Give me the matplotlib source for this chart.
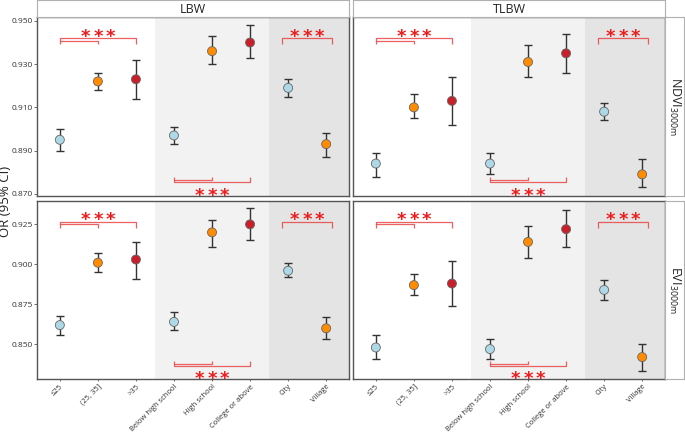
import numpy as np
import matplotlib
matplotlib.use('Agg')
import matplotlib.pyplot as plt
from matplotlib.transforms import offset_copy

plt.rcParams['font.family'] = ['Open Sans', 'DejaVu Sans']
plt.rcParams['mathtext.default'] = 'regular'

categories = ['≤25', '(25, 35]', '>35', 'Below high school', 'High school',
              'College or above', 'City', 'Village']
point_colors = ['#add8e6', '#ff8c00', '#c8202a', '#add8e6', '#ff8c00', '#c8202a',
                '#add8e6', '#ff8c00']
outcomes = ['LBW', 'TLBW']
exposures = ['NDVI', 'EVI']

# odds ratio, lower and upper CI per panel
lbw_ndvi = [0.895, 0.922, 0.923, 0.897, 0.936, 0.940, 0.919, 0.893]
lbw_ndvi_lo = [0.890, 0.918, 0.914, 0.893, 0.930, 0.933, 0.915, 0.887]
lbw_ndvi_hi = [0.900, 0.926, 0.932, 0.901, 0.943, 0.948, 0.923, 0.898]

tlbw_ndvi = [0.884, 0.910, 0.913, 0.884, 0.931, 0.935, 0.908, 0.879]
tlbw_ndvi_lo = [0.878, 0.905, 0.902, 0.879, 0.924, 0.926, 0.904, 0.873]
tlbw_ndvi_hi = [0.889, 0.916, 0.924, 0.889, 0.939, 0.944, 0.912, 0.886]

lbw_evi = [0.862, 0.901, 0.903, 0.864, 0.920, 0.925, 0.896, 0.860]
lbw_evi_lo = [0.856, 0.895, 0.891, 0.859, 0.911, 0.915, 0.892, 0.853]
lbw_evi_hi = [0.868, 0.907, 0.914, 0.870, 0.928, 0.935, 0.901, 0.867]

tlbw_evi = [0.848, 0.887, 0.888, 0.847, 0.914, 0.922, 0.884, 0.842]
tlbw_evi_lo = [0.841, 0.881, 0.874, 0.841, 0.904, 0.911, 0.878, 0.833]
tlbw_evi_hi = [0.856, 0.894, 0.902, 0.853, 0.924, 0.934, 0.890, 0.850]

panels = {
    ('NDVI', 'LBW'): (lbw_ndvi, lbw_ndvi_lo, lbw_ndvi_hi),
    ('NDVI', 'TLBW'): (tlbw_ndvi, tlbw_ndvi_lo, tlbw_ndvi_hi),
    ('EVI', 'LBW'): (lbw_evi, lbw_evi_lo, lbw_evi_hi),
    ('EVI', 'TLBW'): (tlbw_evi, tlbw_evi_lo, tlbw_evi_hi),
}

yticks = {'NDVI': [0.870, 0.890, 0.910, 0.930, 0.950],
          'EVI': [0.850, 0.875, 0.900, 0.925]}
ylims = {'NDVI': (0.869, 0.9518), 'EVI': (0.8283, 0.9396)}

# bracket layout per row (data units)
brackets = {'NDVI': dict(top=0.9419, edu=0.8754, tip=0.0026, star_top=0.9449,
                         star_edu=0.8717),
            'EVI': dict(top=0.9264, edu=0.8363, tip=0.0034, star_top=0.9308,
                        star_edu=0.8315)}

RED = '#ee1c1c'
BR = dict(color='#e83a3a', lw=0.9, alpha=0.8, solid_capstyle='butt')
STAR_FS = 13


def bracket_down(ax, x0, x1, y, tip, inner=None):
    ax.plot([x0, x0, x1, x1], [y - tip, y, y, y - tip], **BR)
    if inner is not None:
        yi = y - tip * 0.4
        ax.plot([x0, inner, inner], [yi, yi, y - tip], **BR)


def bracket_up(ax, x0, x1, y, tip, inner=None):
    ax.plot([x0, x0, x1, x1], [y + tip, y, y, y + tip], **BR)
    if inner is not None:
        yi = y + tip * 0.4
        ax.plot([x0, inner, inner], [yi, yi, y + tip], **BR)


def stars(ax, xc, yc):
    # asterisk glyph sits ~0.575 em above the baseline, shift so it centres on yc
    tr = offset_copy(ax.transData, fig=ax.figure, y=-0.575 * STAR_FS, units='points')
    for dx in (-0.33, 0, 0.33):
        ax.text(xc + dx, yc, '*', color=RED, fontsize=STAR_FS, family='DejaVu Sans',
                weight='bold', ha='center', va='baseline', transform=tr)


fig = plt.figure(figsize=(6.85, 4.33), dpi=100)
W, H = 685, 433
col_x = [37, 353]
ax_w = 312
row_y = [(17, 196), (201, 379)]

x = np.arange(1, len(categories) + 1)

for r, expo in enumerate(exposures):
    for c, outc in enumerate(outcomes):
        top, bot = row_y[r]
        ax = fig.add_axes([col_x[c] / W, 1 - bot / H, ax_w / W, (bot - top) / H])
        ax.set_xlim(0.4, 8.6)
        ax.set_ylim(*ylims[expo])
        ax.axvspan(3.5, 6.5, color='#f2f2f2', lw=0, zorder=0)
        ax.axvspan(6.5, 8.6, color='#e4e4e4', lw=0, zorder=0)

        val, lo, hi = [np.array(a) for a in panels[(expo, outc)]]
        ax.errorbar(x, val, yerr=[val - lo, hi - val], fmt='none', ecolor='#333333',
                    elinewidth=1.0, capsize=2.6, capthick=1.0, zorder=2)
        ax.scatter(x, val, s=42, c=point_colors, edgecolors='#666666', linewidths=0.6,
                   zorder=3)

        b = brackets[expo]
        bracket_down(ax, 1, 3, b['top'], b['tip'], inner=2)
        stars(ax, 2, b['star_top'])
        bracket_down(ax, 6.85, 8.15, b['top'], b['tip'])
        stars(ax, 7.5, b['star_top'])
        bracket_up(ax, 4, 6, b['edu'], b['tip'], inner=5)
        stars(ax, 5, b['star_edu'])

        ax.set_xticks(x)
        if r == 1:
            ax.set_xticklabels(categories, rotation=45, ha='right',
                               rotation_mode='anchor', fontsize=5.5, color='#333333')
            ax.tick_params(axis='x', length=1.5, pad=1.5)
        else:
            ax.set_xticklabels([])
            ax.tick_params(axis='x', length=0)
        ax.set_yticks(yticks[expo])
        if c == 0:
            ax.set_yticklabels(['%.3f' % t for t in yticks[expo]], fontsize=6,
                               color='#333333')
            ax.tick_params(axis='y', length=2.2, pad=1)
        else:
            ax.set_yticklabels([])
            ax.tick_params(axis='y', length=0)
        ax.tick_params(width=0.6, color='#555555')
        for s in ax.spines.values():
            s.set_color('#555555')
            s.set_linewidth(1.0)

        # top strip
        if r == 0:
            sa = fig.add_axes([col_x[c] / W, 1 - 17 / H, ax_w / W, 17 / H])
            sa.set_xticks([])
            sa.set_yticks([])
            for s in sa.spines.values():
                s.set_color('#b0b0b0')
                s.set_linewidth(0.8)
            sa.text(0.5, 0.45, outc, ha='center', va='center', fontsize=9,
                    color='#222222', transform=sa.transAxes)

    # right strip
    top, bot = row_y[r]
    sa = fig.add_axes([665 / W, 1 - bot / H, 19 / W, (bot - top) / H])
    sa.set_xticks([])
    sa.set_yticks([])
    for s in sa.spines.values():
        s.set_color('#b0b0b0')
        s.set_linewidth(0.8)
    sa.text(0.5, 0.5, expo + r'$_{3000m}$', ha='center', va='center', fontsize=9,
            rotation=270, color='#222222', transform=sa.transAxes)

fig.text(0.008, 1 - 201 / H, 'OR (95% CI)', rotation=90, ha='center', va='center',
         fontsize=9.5, color='#222222')

fig.savefig('out.png', dpi=100)
